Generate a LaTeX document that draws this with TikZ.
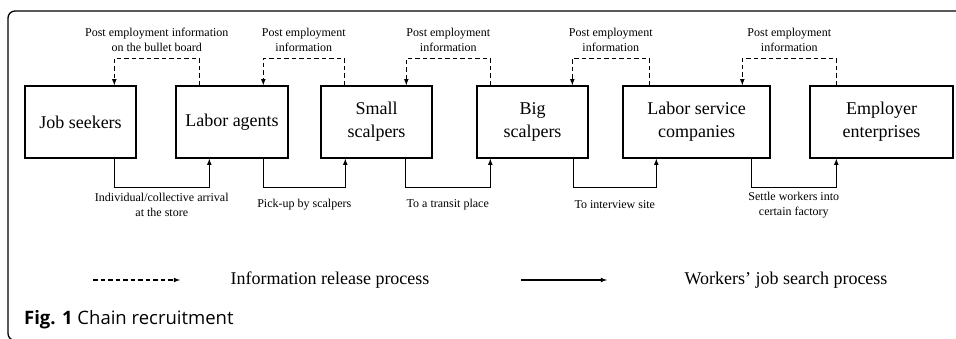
\documentclass[tikz,border=0pt]{standalone}
\usepackage{fontspec}
\setmainfont{Liberation Serif}
\newfontfamily\capfont{Open Sans}
\usepackage{tikz}
\usetikzlibrary{arrows,calc}

\begin{document}
\begin{tikzpicture}[x=1pt,y=1pt,
  stage/.style={draw, line width=1.4pt, minimum height=72pt, inner sep=0pt, align=center, font=\fontsize{18}{23}\selectfont},
  info/.style={draw, line width=1.1pt, dash pattern=on 4.5pt off 3pt, -latex},
  job/.style={draw, line width=1.1pt, -latex},
  note/.style={align=center, font=\fontsize{12}{15}\selectfont},
  legend/.style={font=\fontsize{18}{21}\selectfont}]
\useasboundingbox (0,0) rectangle (956,339);
\clip (0,0) rectangle (956,339);

% Frame round the figure
\draw[line width=1.3pt, rounded corners=7pt] (960,328) -- (8,328) -- (8,-1.5) -- (30,-1.5);

% Stages of the chain
\node[stage, minimum width=111pt] (seekers) at (80.5,217) {Job seekers};
\node[stage, minimum width=112pt] (agents) at (232,217) {Labor agents};
\node[stage, minimum width=111pt] (small) at (376.5,217) {Small\\scalpers};
\node[stage, minimum width=111pt] (big) at (532.5,217) {Big\\scalpers};
\node[stage, minimum width=147pt] (service) at (696.5,217) {Labor service\\companies};
\node[stage, minimum width=143pt] (employer) at (881.5,217) {Employer\\enterprises};

% Information passed back down the chain
\draw[info] ($(agents.north west)+(24,0)$) -- ++(0,27) -| node[note, pos=0.25, yshift=18pt] {Post employment information\\on the bullet board} ($(seekers.north west)+(90,0)$);
\draw[info] ($(small.north west)+(24,0)$) -- ++(0,27) -| node[note, pos=0.25, yshift=18pt] {Post employment\\information} ($(agents.north west)+(88,0)$);
\draw[info] ($(big.north west)+(14,0)$) -- ++(0,27) -| node[note, pos=0.25, yshift=18pt] {Post employment\\information} ($(small.north west)+(86,0)$);
\draw[info] ($(service.north west)+(27,0)$) -- ++(0,27) -| node[note, pos=0.25, yshift=18pt] {Post employment\\information} ($(big.north west)+(96,0)$);
\draw[info] ($(employer.north west)+(27,0)$) -- ++(0,27) -| node[note, pos=0.25, yshift=18pt] {Post employment\\information} ($(service.north west)+(120,0)$);

% Workers moving up the chain
\draw[job] ($(seekers.south west)+(90,0)$) -- ++(0,-29) -| node[note, pos=0.25, yshift=-17pt] {Individual/collective arrival\\at the store} ($(agents.south west)+(34,0)$);
\draw[job] ($(agents.south west)+(88,0)$) -- ++(0,-29) -| node[note, pos=0.25, yshift=-17pt] {Pick-up by scalpers} ($(small.south west)+(25,0)$);
\draw[job] ($(small.south west)+(85,0)$) -- ++(0,-29) -| node[note, pos=0.25, yshift=-17pt] {To a transit place} ($(big.south west)+(14,0)$);
\draw[job] ($(big.south west)+(97,0)$) -- ++(0,-29) -| node[note, pos=0.25, yshift=-17pt] {To interview site} ($(service.south west)+(34,0)$);
\draw[job] ($(service.south west)+(129,0)$) -- ++(0,-29) -| node[note, pos=0.25, yshift=-17pt] {Settle workers into\\certain factory} ($(employer.south west)+(27,0)$);

% Legend
\coordinate (infoA) at (93,59);
\coordinate (infoB) at (180,59);
\draw[info] (infoA) -- (infoB);
\node[legend] (infolabel) at (330,59) {Information release process};
\coordinate (jobA) at (521,59);
\coordinate (jobB) at (607,59);
\draw[job] (jobA) -- (jobB);
\node[legend] (joblabel) at (786,59) {Workers’ job search process};

% Caption
\node[anchor=west, inner sep=0pt, font=\capfont\fontsize{18.5}{21}\selectfont] (caption) at (24,19) {\textbf{Fig. 1} Chain recruitment};
\end{tikzpicture}
\end{document}
